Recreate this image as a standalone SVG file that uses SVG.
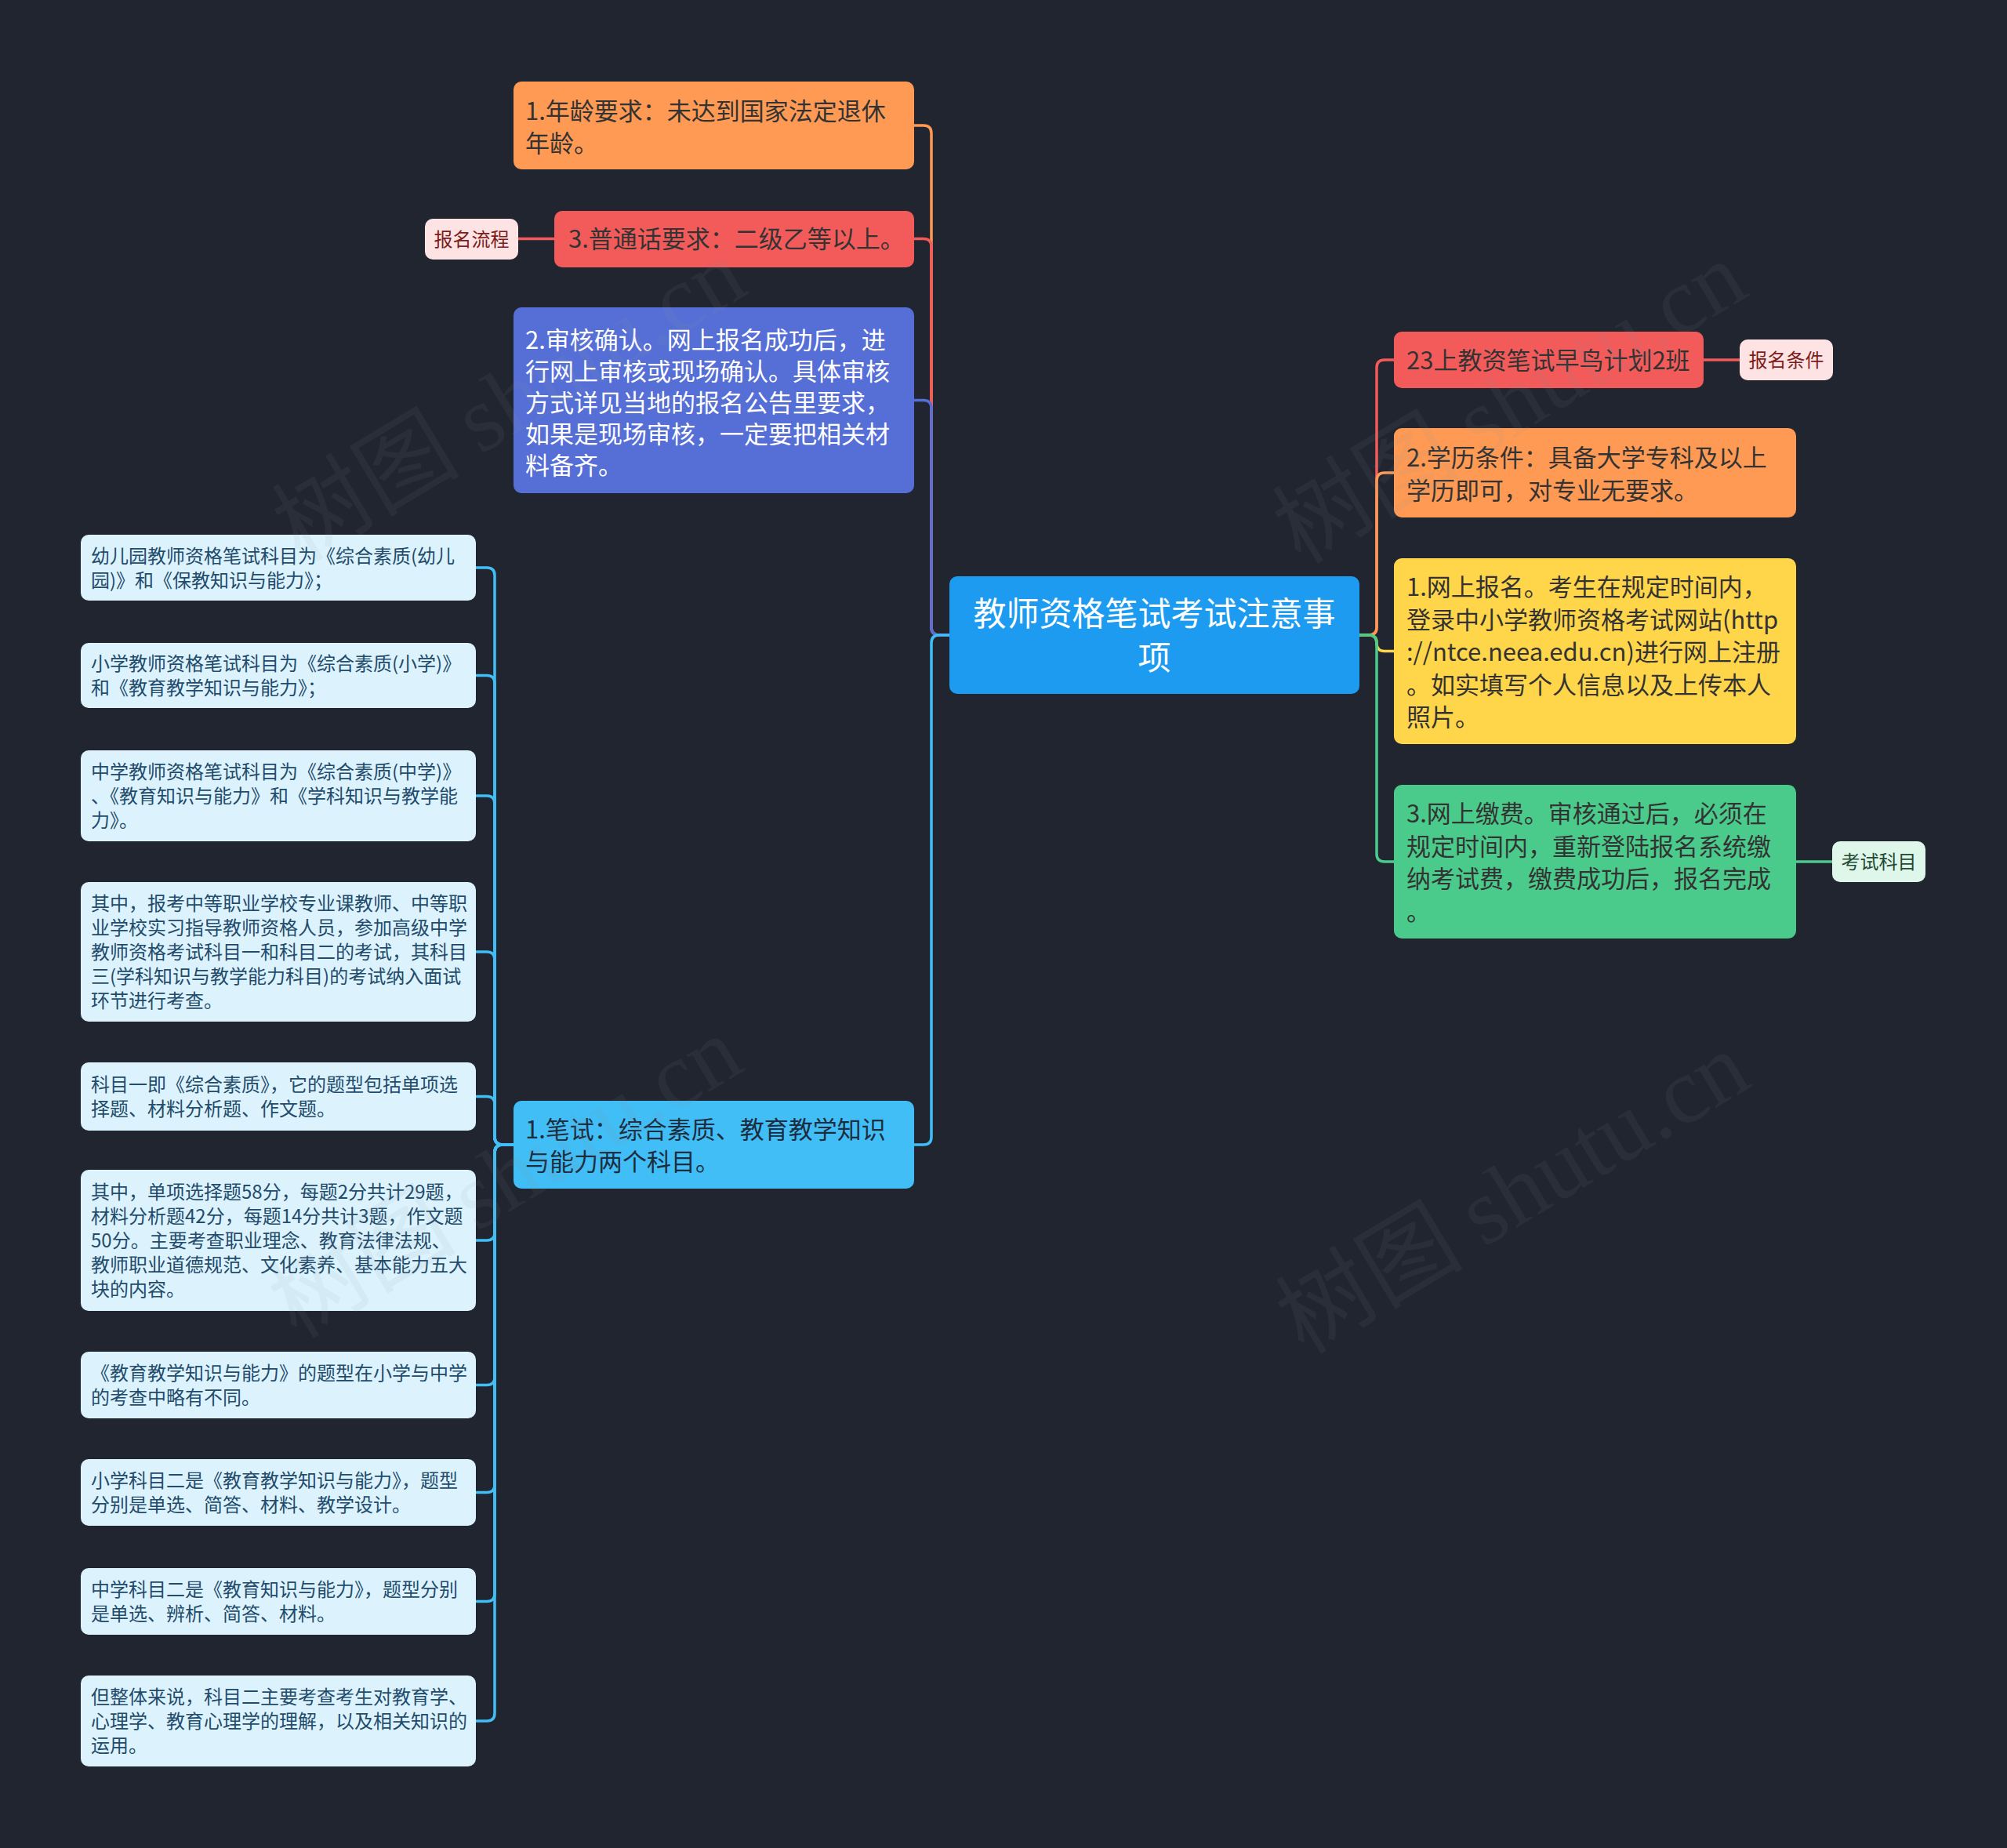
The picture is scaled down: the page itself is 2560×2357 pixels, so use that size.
<svg xmlns="http://www.w3.org/2000/svg" width="2560" height="2357" viewBox="0 0 2560 2357">
<style>
text{font-family:"Noto Sans CJK SC","Noto Sans",sans-serif;}
.t31{font-size:31px;fill:#333333;}
.tw{font-size:31px;fill:#ffffff;}
.tc{font-size:42px;fill:#ffffff;text-anchor:middle;}
.tb{font-size:31px;fill:#1d2d3e;}
.leaf rect{fill:#dcf3fd;}
.leaf text{font-size:24px;fill:#234b6b;}
.tag text{font-size:24px;text-anchor:middle;}
.c{fill:none;stroke-width:3.5;stroke-linecap:round;}
.wm{font-size:120px;fill:#8a8f9c;fill-opacity:0.09;text-anchor:middle;}
.wm .l{font-family:"Liberation Serif",serif;}
</style>
<rect width="2560" height="2357" fill="#212530"/>

<g id="connectors">
<path class="c" stroke="#fe9a54" d="M1211,810 H1198 Q1188,810 1188,800 V170 Q1188,160 1178,160 H1166"/>
<path class="c" stroke="#f35b5b" d="M1211,810 H1198 Q1188,810 1188,800 V314.5 Q1188,304.5 1178,304.5 H1166"/>
<path class="c" stroke="#566fd6" d="M1211,810 H1198 Q1188,810 1188,800 V520.5 Q1188,510.5 1178,510.5 H1166"/>
<path class="c" stroke="#41bef6" d="M1211,810 H1198 Q1188,810 1188,820 V1450 Q1188,1460 1178,1460 H1166"/>
<path class="c" stroke="#f35b5b" d="M1734,810 H1746 Q1756,810 1756,800 V469 Q1756,459 1766,459 H1778"/>
<path class="c" stroke="#fe9a54" d="M1734,810 H1746 Q1756,810 1756,800 V613 Q1756,603 1766,603 H1778"/>
<path class="c" stroke="#ffd54a" d="M1734,810 H1746 Q1756,810 1756,820 V820.5 Q1756,830.5 1766,830.5 H1778"/>
<path class="c" stroke="#4bcb8b" d="M1734,810 H1746 Q1756,810 1756,820 V1089 Q1756,1099 1766,1099 H1778"/>
<path class="c" stroke="#f35b5b" stroke-width="4" d="M661,304.5 H707"/>
<path class="c" stroke="#f35b5b" stroke-width="4" d="M2173,459 H2219"/>
<path class="c" stroke="#4bcb8b" stroke-width="4" d="M2291,1099 H2337"/>
<g stroke="#41bef6">
<path class="c" d="M655,1460 H641 Q631,1460 631,1450 V734 Q631,724 621,724 H607"/>
<path class="c" d="M655,1460 H641 Q631,1460 631,1450 V871.5 Q631,861.5 621,861.5 H607"/>
<path class="c" d="M655,1460 H641 Q631,1460 631,1450 V1025 Q631,1015 621,1015 H607"/>
<path class="c" d="M655,1460 H641 Q631,1460 631,1450 V1224 Q631,1214 621,1214 H607"/>
<path class="c" d="M655,1460 H641 Q631,1460 631,1450 V1408.5 Q631,1398.5 621,1398.5 H607"/>
<path class="c" d="M655,1460 H641 Q631,1460 631,1470 V1572 Q631,1582 621,1582 H607"/>
<path class="c" d="M655,1460 H641 Q631,1460 631,1470 V1756.5 Q631,1766.5 621,1766.5 H607"/>
<path class="c" d="M655,1460 H641 Q631,1460 631,1470 V1893.5 Q631,1903.5 621,1903.5 H607"/>
<path class="c" d="M655,1460 H641 Q631,1460 631,1470 V2032.5 Q631,2042.5 621,2042.5 H607"/>
<path class="c" d="M655,1460 H641 Q631,1460 631,1470 V2185 Q631,2195 621,2195 H607"/>
</g>
</g>

<g id="center">
<rect x="1211" y="735" width="523" height="150" rx="10" fill="#1d9bf0"/>
<text class="tc"><tspan x="1472.5" y="798">教师资格笔试考试注意事</tspan><tspan x="1472.5" y="854">项</tspan></text>
</g>

<g id="n-age">
<rect x="655" y="104" width="511" height="112" rx="10" fill="#fe9a54"/>
<text class="t31"><tspan x="670" y="153">1.年龄要求：未达到国家法定退休</tspan><tspan x="670" y="194">年龄。</tspan></text>
</g>
<g id="n-mandarin">
<rect x="707" y="269" width="459" height="72" rx="10" fill="#f35b5b"/>
<text class="t31" x="725" y="316">3.普通话要求：二级乙等以上。</text>
</g>
<g id="tag-process" class="tag">
<rect x="542" y="279" width="119" height="52" rx="10" fill="#fde3e3"/>
<text x="601.5" y="314" fill="#7e1c1c">报名流程</text>
</g>
<g id="n-review">
<rect x="655" y="392" width="511" height="237" rx="10" fill="#566fd6"/>
<text class="tw"><tspan x="670" y="445">2.审核确认。网上报名成功后，进</tspan><tspan x="670" y="485">行网上审核或现场确认。具体审核</tspan><tspan x="670" y="525">方式详见当地的报名公告里要求，</tspan><tspan x="670" y="565">如果是现场审核，一定要把相关材</tspan><tspan x="670" y="605">料备齐。</tspan></text>
</g>
<g id="n-written">
<rect x="655" y="1404" width="511" height="112" rx="10" fill="#41bef6"/>
<text class="tb"><tspan x="670" y="1452">1.笔试：综合素质、教育教学知识</tspan><tspan x="670" y="1493">与能力两个科目。</tspan></text>
</g>

<g id="n-class">
<rect x="1778" y="423" width="395" height="72" rx="10" fill="#f35b5b"/>
<text class="t31" x="1794" y="471">23上教资笔试早鸟计划2班</text>
</g>
<g id="tag-cond" class="tag">
<rect x="2219" y="433" width="119" height="52" rx="10" fill="#fde3e3"/>
<text x="2278.5" y="468" fill="#7e1c1c">报名条件</text>
</g>
<g id="n-edu">
<rect x="1778" y="546" width="513" height="114" rx="10" fill="#fe9a54"/>
<text class="t31"><tspan x="1794" y="595">2.学历条件：具备大学专科及以上</tspan><tspan x="1794" y="637">学历即可，对专业无要求。</tspan></text>
</g>
<g id="n-online">
<rect x="1778" y="712" width="513" height="237" rx="10" fill="#ffd54a"/>
<text class="t31"><tspan x="1794" y="760">1.网上报名。考生在规定时间内，</tspan><tspan x="1794" y="801.5">登录中小学教师资格考试网站(http</tspan><tspan x="1794" y="843">://ntce.neea.edu.cn)进行网上注册</tspan><tspan x="1794" y="884.5">。如实填写个人信息以及上传本人</tspan><tspan x="1794" y="926">照片。</tspan></text>
</g>
<g id="n-pay">
<rect x="1778" y="1001" width="513" height="196" rx="10" fill="#4bcb8b"/>
<text class="t31"><tspan x="1794" y="1049">3.网上缴费。审核通过后，必须在</tspan><tspan x="1794" y="1090.5">规定时间内，重新登陆报名系统缴</tspan><tspan x="1794" y="1132">纳考试费，缴费成功后，报名完成</tspan><tspan x="1794" y="1173.5">。</tspan></text>
</g>
<g id="tag-subject" class="tag">
<rect x="2337" y="1073" width="119" height="52" rx="10" fill="#dff6ea"/>
<text x="2396.5" y="1108" fill="#1f4a33">考试科目</text>
</g>

<g id="leaf1" class="leaf"><rect x="103" y="682" width="504" height="84" rx="10"/>
<text><tspan x="116" y="718">幼儿园教师资格笔试科目为《综合素质(幼儿</tspan><tspan x="116" y="749">园)》和《保教知识与能力》；</tspan></text></g>
<g id="leaf2" class="leaf"><rect x="103" y="820" width="504" height="83" rx="10"/>
<text><tspan x="116" y="855">小学教师资格笔试科目为《综合素质(小学)》</tspan><tspan x="116" y="886">和《教育教学知识与能力》；</tspan></text></g>
<g id="leaf3" class="leaf"><rect x="103" y="957" width="504" height="116" rx="10"/>
<text><tspan x="116" y="993">中学教师资格笔试科目为《综合素质(中学)》</tspan><tspan x="116" y="1024">、《教育知识与能力》和《学科知识与教学能</tspan><tspan x="116" y="1055">力》。</tspan></text></g>
<g id="leaf4" class="leaf"><rect x="103" y="1125" width="504" height="178" rx="10"/>
<text><tspan x="116" y="1161">其中，报考中等职业学校专业课教师、中等职</tspan><tspan x="116" y="1192">业学校实习指导教师资格人员，参加高级中学</tspan><tspan x="116" y="1223">教师资格考试科目一和科目二的考试，其科目</tspan><tspan x="116" y="1254">三(学科知识与教学能力科目)的考试纳入面试</tspan><tspan x="116" y="1285">环节进行考查。</tspan></text></g>
<g id="leaf5" class="leaf"><rect x="103" y="1355" width="504" height="87" rx="10"/>
<text><tspan x="116" y="1392">科目一即《综合素质》，它的题型包括单项选</tspan><tspan x="116" y="1423">择题、材料分析题、作文题。</tspan></text></g>
<g id="leaf6" class="leaf"><rect x="103" y="1492" width="504" height="180" rx="10"/>
<text><tspan x="116" y="1529">其中，单项选择题58分，每题2分共计29题，</tspan><tspan x="116" y="1560">材料分析题42分，每题14分共计3题，作文题</tspan><tspan x="116" y="1591">50分。主要考查职业理念、教育法律法规、</tspan><tspan x="116" y="1622">教师职业道德规范、文化素养、基本能力五大</tspan><tspan x="116" y="1653">块的内容。</tspan></text></g>
<g id="leaf7" class="leaf"><rect x="103" y="1724" width="504" height="85" rx="10"/>
<text><tspan x="116" y="1760">《教育教学知识与能力》的题型在小学与中学</tspan><tspan x="116" y="1791">的考查中略有不同。</tspan></text></g>
<g id="leaf8" class="leaf"><rect x="103" y="1861" width="504" height="85" rx="10"/>
<text><tspan x="116" y="1897">小学科目二是《教育教学知识与能力》，题型</tspan><tspan x="116" y="1928">分别是单选、简答、材料、教学设计。</tspan></text></g>
<g id="leaf9" class="leaf"><rect x="103" y="2000" width="504" height="85" rx="10"/>
<text><tspan x="116" y="2036">中学科目二是《教育知识与能力》，题型分别</tspan><tspan x="116" y="2067">是单选、辨析、简答、材料。</tspan></text></g>
<g id="leaf10" class="leaf"><rect x="103" y="2137" width="504" height="116" rx="10"/>
<text><tspan x="116" y="2173">但整体来说，科目二主要考查考生对教育学、</tspan><tspan x="116" y="2204">心理学、教育心理学的理解，以及相关知识的</tspan><tspan x="116" y="2235">运用。</tspan></text></g>

<g id="watermarks">
<text class="wm" transform="translate(650,511) rotate(-31)" x="0" y="40">树图 <tspan class="l">shutu.cn</tspan></text>
<text class="wm" transform="translate(1926,514) rotate(-31)" x="0" y="40">树图 <tspan class="l">shutu.cn</tspan></text>
<text class="wm" transform="translate(645,1502) rotate(-31)" x="0" y="40">树图 <tspan class="l">shutu.cn</tspan></text>
<text class="wm" transform="translate(1930,1522) rotate(-31)" x="0" y="40">树图 <tspan class="l">shutu.cn</tspan></text>
</g>
</svg>
